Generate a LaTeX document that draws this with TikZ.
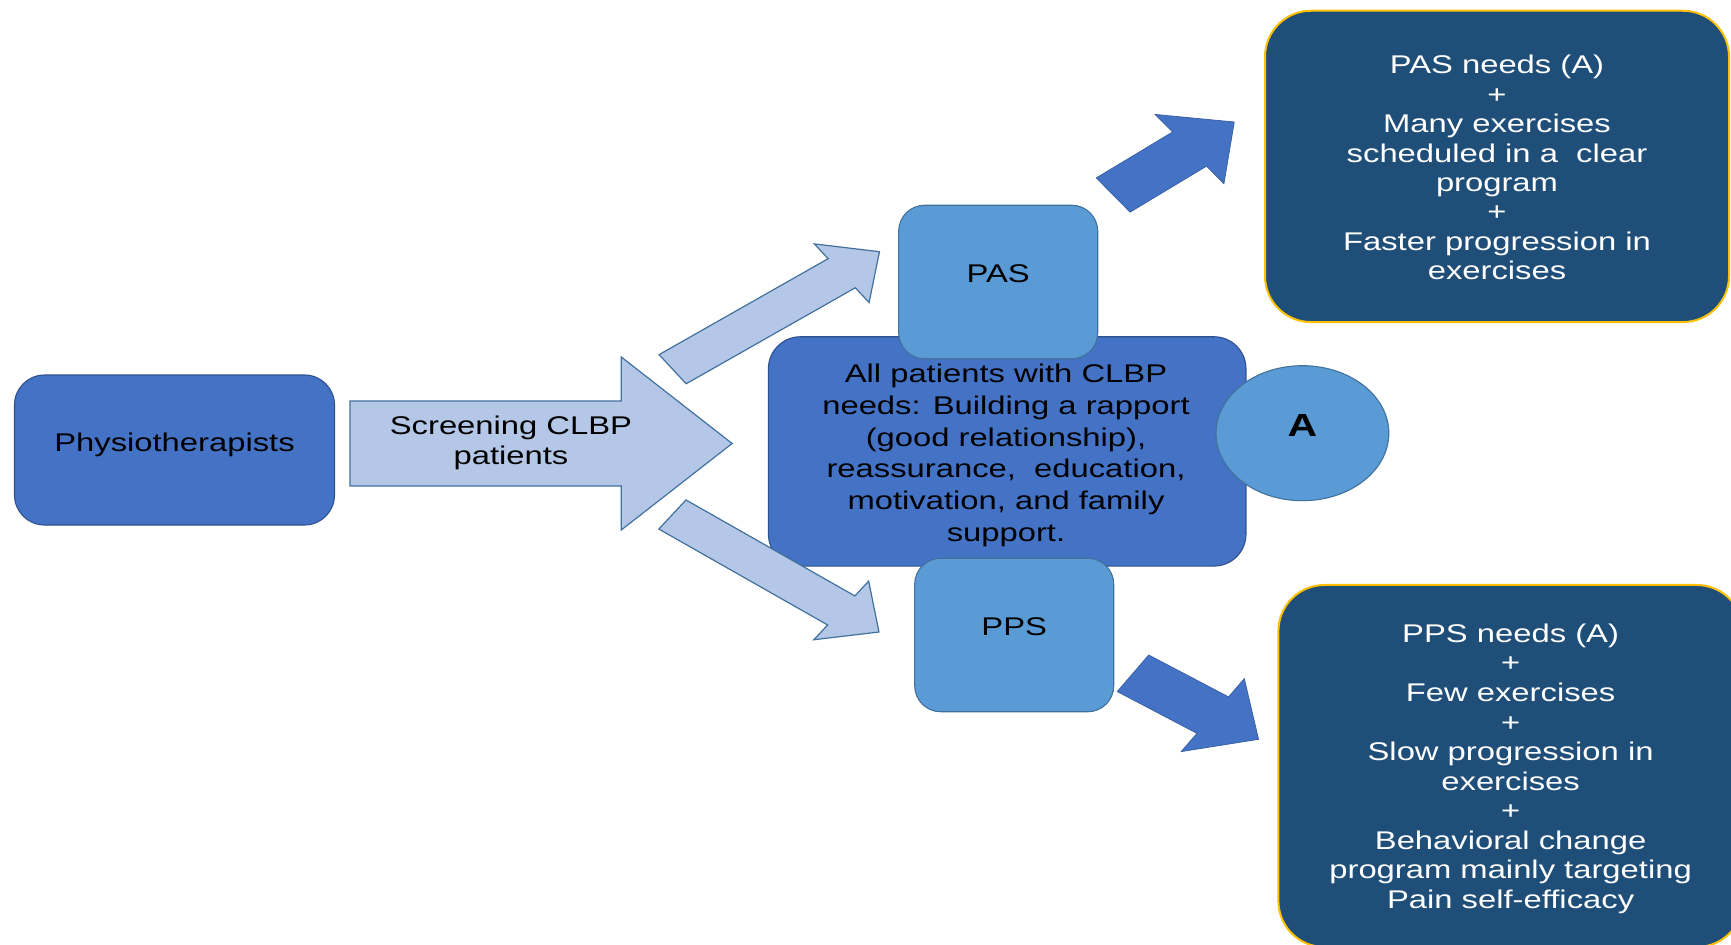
\documentclass[tikz,border=0pt]{standalone}
\usepackage{fontspec}
\setmainfont{Liberation Sans}
\usetikzlibrary{calc,shapes.geometric}

\definecolor{midblue}{HTML}{4472C4}
\definecolor{midedge}{HTML}{2F528F}
\definecolor{skyblue}{HTML}{5B9BD5}
\definecolor{skyedge}{HTML}{41719C}
\definecolor{paleblue}{HTML}{B4C7E7}
\definecolor{navybox}{HTML}{1F4E79}
\definecolor{goldedge}{HTML}{FFC000}

% block arrow from a tail coordinate to a tip coordinate
% #1 style, #2 tail, #3 tip, #4 half shaft width, #5 half head width, #6 head length
\newcommand\blockarrow[6]{%
  \coordinate (#2-neck) at ($(#3)!#6!(#2)$);
  \draw[#1] ($(#2)!#4!90:(#3)$) -- ($(#2-neck)!#4!90:(#3)$)
    -- ($(#2-neck)!#5!90:(#3)$) -- (#3)
    -- ($(#2-neck)!#5!-90:(#3)$) -- ($(#2-neck)!#4!-90:(#3)$)
    -- ($(#2)!#4!-90:(#3)$) -- cycle;
}

\begin{document}
\begin{tikzpicture}[x=0.78125bp,y=-1bp,
  every node/.style={inner sep=0pt, outer sep=0pt,
    font=\fontsize{25.6bp}{29.4bp}\selectfont},
  bluebox/.style={rectangle, rounded corners=#1, fill=midblue, draw=midedge,
    line width=1.1bp},
  skybox/.style={rectangle, rounded corners=26bp, fill=skyblue, draw=skyedge,
    line width=1.1bp, minimum width=155.5bp, minimum height=153.5bp,
    text height=18.3bp, text depth=18.3bp},
  needbox/.style={rectangle, rounded corners=46bp, fill=navybox, draw=goldedge,
    line width=2bp},
  needtext/.style={align=center, text=white},
  lightarrow/.style={fill=paleblue, draw=skyedge, line width=1.2bp, line join=miter},
  darkarrow/.style={fill=midblue, draw=midblue!85!black, line width=0.8bp, line join=miter}]

% the whole chart is set in a horizontally widened frame (1 unit = 1 output pixel)
\begin{scope}[xscale=1.28, transform shape]

\useasboundingbox (0,0) rectangle (1731,945);
\clip (0,0) rectangle (1731,945);
\fill[white] (0,0) rectangle (1731,945);

% left: physiotherapists and the screening arrow
\node[bluebox=30bp, minimum width=250bp, minimum height=150bp,
  text depth=16bp] (physio) at (174.5,450) {Physiotherapists};

\coordinate (scrTail) at (350,443.5);
\coordinate (scrTip) at (732,443.5);
\blockarrow{lightarrow}{scrTail}{scrTip}{42.5bp}{86.5bp}{86.7bp}
\node[align=center] (screening) at (511,443) {Screening CLBP\\patients};

% centre: needs shared by all patients
\node[bluebox=32bp, minimum width=373.1bp, minimum height=229.3bp]
  (centre) at (1007.2,451.4) {};
\node[align=center, font=\fontsize{25.6bp}{31.8bp}\selectfont]
  (centretext) at (1006,455.4)
  {All patients with CLBP\\needs: Building a rapport\\(good relationship),\\
   reassurance,\ \ education,\\motivation, and family\\support.};

% branch arrows towards the two subgroups
\coordinate (upTail) at (672.5,369.2);
\coordinate (upTip) at (879.3,251.7);
\coordinate (downTail) at (672.3,514.5);
\coordinate (downTip) at (878.8,632);
\blockarrow{lightarrow}{upTail}{upTip}{18bp}{36.3bp}{36.6bp}
\blockarrow{lightarrow}{downTail}{downTip}{18bp}{36.3bp}{36.6bp}

\node[skybox] (pas) at (998.2,282) {PAS};
\node[skybox] (pps) at (1014.2,635) {PPS};

\node[circle, fill=skyblue, draw=skyedge, line width=1.1bp,
  minimum size=135bp,
  font=\fontsize{32bp}{36bp}\selectfont\bfseries,
  text height=22.9bp, text depth=17bp] (a) at (1302.4,433.2) {A};

% right: subgroup programmes
\coordinate (pasOutTail) at (1113,195);
\coordinate (pasOutTip) at (1234,122);
\coordinate (ppsOutTail) at (1132.8,673.3);
\coordinate (ppsOutTip) at (1258.3,739.3);
\blockarrow{darkarrow}{pasOutTail}{pasOutTip}{21.6bp}{43.8bp}{44.3bp}
\blockarrow{darkarrow}{ppsOutTail}{ppsOutTip}{22bp}{44bp}{43.3bp}

\node[needbox, minimum width=362.5bp, minimum height=311.3bp]
  (pasneeds) at (1497,166.4) {};
\node[needtext] (pasneedstext) at (1497,167.6)
  {PAS needs (A)\\+\\Many exercises\\scheduled in a\ \ clear\\program\\+\\
   Faster progression in\\exercises};

\node[needbox, minimum width=362.8bp, minimum height=362bp]
  (ppsneeds) at (1510.6,766) {};
\node[needtext, font=\fontsize{25.6bp}{29.55bp}\selectfont]
  (ppsneedstext) at (1510.6,768.8)
  {PPS needs (A)\\+\\Few exercises\\+\\Slow progression in\\exercises\\+\\
   Behavioral change\\program mainly targeting\\Pain self-efficacy};

\end{scope}
\end{tikzpicture}
\end{document}
